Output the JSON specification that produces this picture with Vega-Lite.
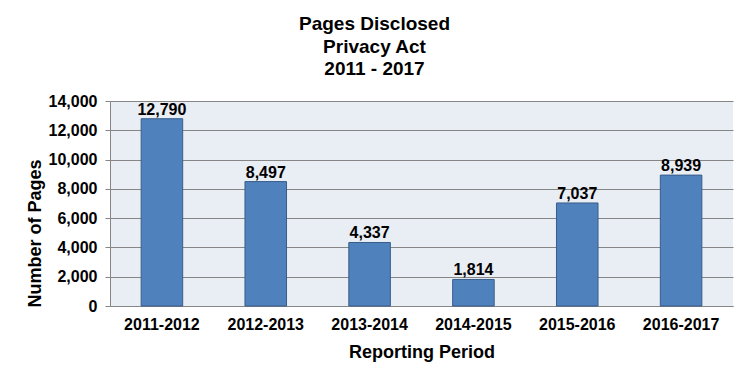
{
  "$schema": "https://vega.github.io/schema/vega-lite/v6.json",
  "autosize": "none",
  "padding": {"left": 110, "top": 101, "right": 22, "bottom": 76},
  "width": 623,
  "height": 205,
  "background": "white",
  "title": {
    "text": ["Pages Disclosed", "Privacy Act", "2011 - 2017"],
    "anchor": "middle",
    "frame": "group",
    "dx": -47,
    "offset": 14,
    "font": "Liberation Sans",
    "fontSize": 19,
    "fontWeight": "bold",
    "lineHeight": 22.5,
    "color": "black"
  },
  "config": {
    "view": {"fill": "#E9EDF4", "stroke": null},
    "axis": {"labelFont": "Liberation Sans", "titleFont": "Liberation Sans", "labelColor": "black", "titleColor": "black"}
  },
  "data": {
    "values": [
      {"period": "2011-2012", "pages": 12790},
      {"period": "2012-2013", "pages": 8497},
      {"period": "2013-2014", "pages": 4337},
      {"period": "2014-2015", "pages": 1814},
      {"period": "2015-2016", "pages": 7037},
      {"period": "2016-2017", "pages": 8939}
    ]
  },
  "encoding": {
    "x": {
      "field": "period",
      "type": "nominal",
      "sort": null,
      "scale": {"paddingInner": 0.6, "paddingOuter": 0.3},
      "axis": {
        "title": "Reporting Period",
        "labelAngle": 0,
        "labelFontSize": 16,
        "labelFontWeight": "bold",
        "labelPadding": 10,
        "ticks": false,
        "domainColor": "#868686",
        "titleFontSize": 18,
        "titleFontWeight": "bold",
        "titlePadding": 11
      }
    },
    "y": {
      "field": "pages",
      "type": "quantitative",
      "scale": {"domain": [0, 14000]},
      "axis": {
        "title": "Number of Pages",
        "values": [0, 2000, 4000, 6000, 8000, 10000, 12000, 14000],
        "format": ",.0f",
        "labelFontSize": 16,
        "labelFontWeight": "bold",
        "labelPadding": 8,
        "tickSize": 5,
        "tickColor": "#868686",
        "domainColor": "#868686",
        "gridColor": "#868686",
        "gridOpacity": 1,
        "titleFontSize": 18,
        "titleFontWeight": "bold",
        "titleX": -75,
        "titleY": 132,
        "titleAngle": -90,
        "titleBaseline": "middle",
        "titleAlign": "center"
      }
    }
  },
  "layer": [
    {
      "mark": {"type": "bar", "color": "#4F81BD", "stroke": "#385D8A", "strokeWidth": 1}
    },
    {
      "mark": {"type": "text", "baseline": "bottom", "dy": -1, "font": "Liberation Sans", "fontSize": 16, "fontWeight": "bold", "color": "black"},
      "encoding": {"text": {"field": "pages", "type": "quantitative", "format": ",.0f"}}
    }
  ]
}
